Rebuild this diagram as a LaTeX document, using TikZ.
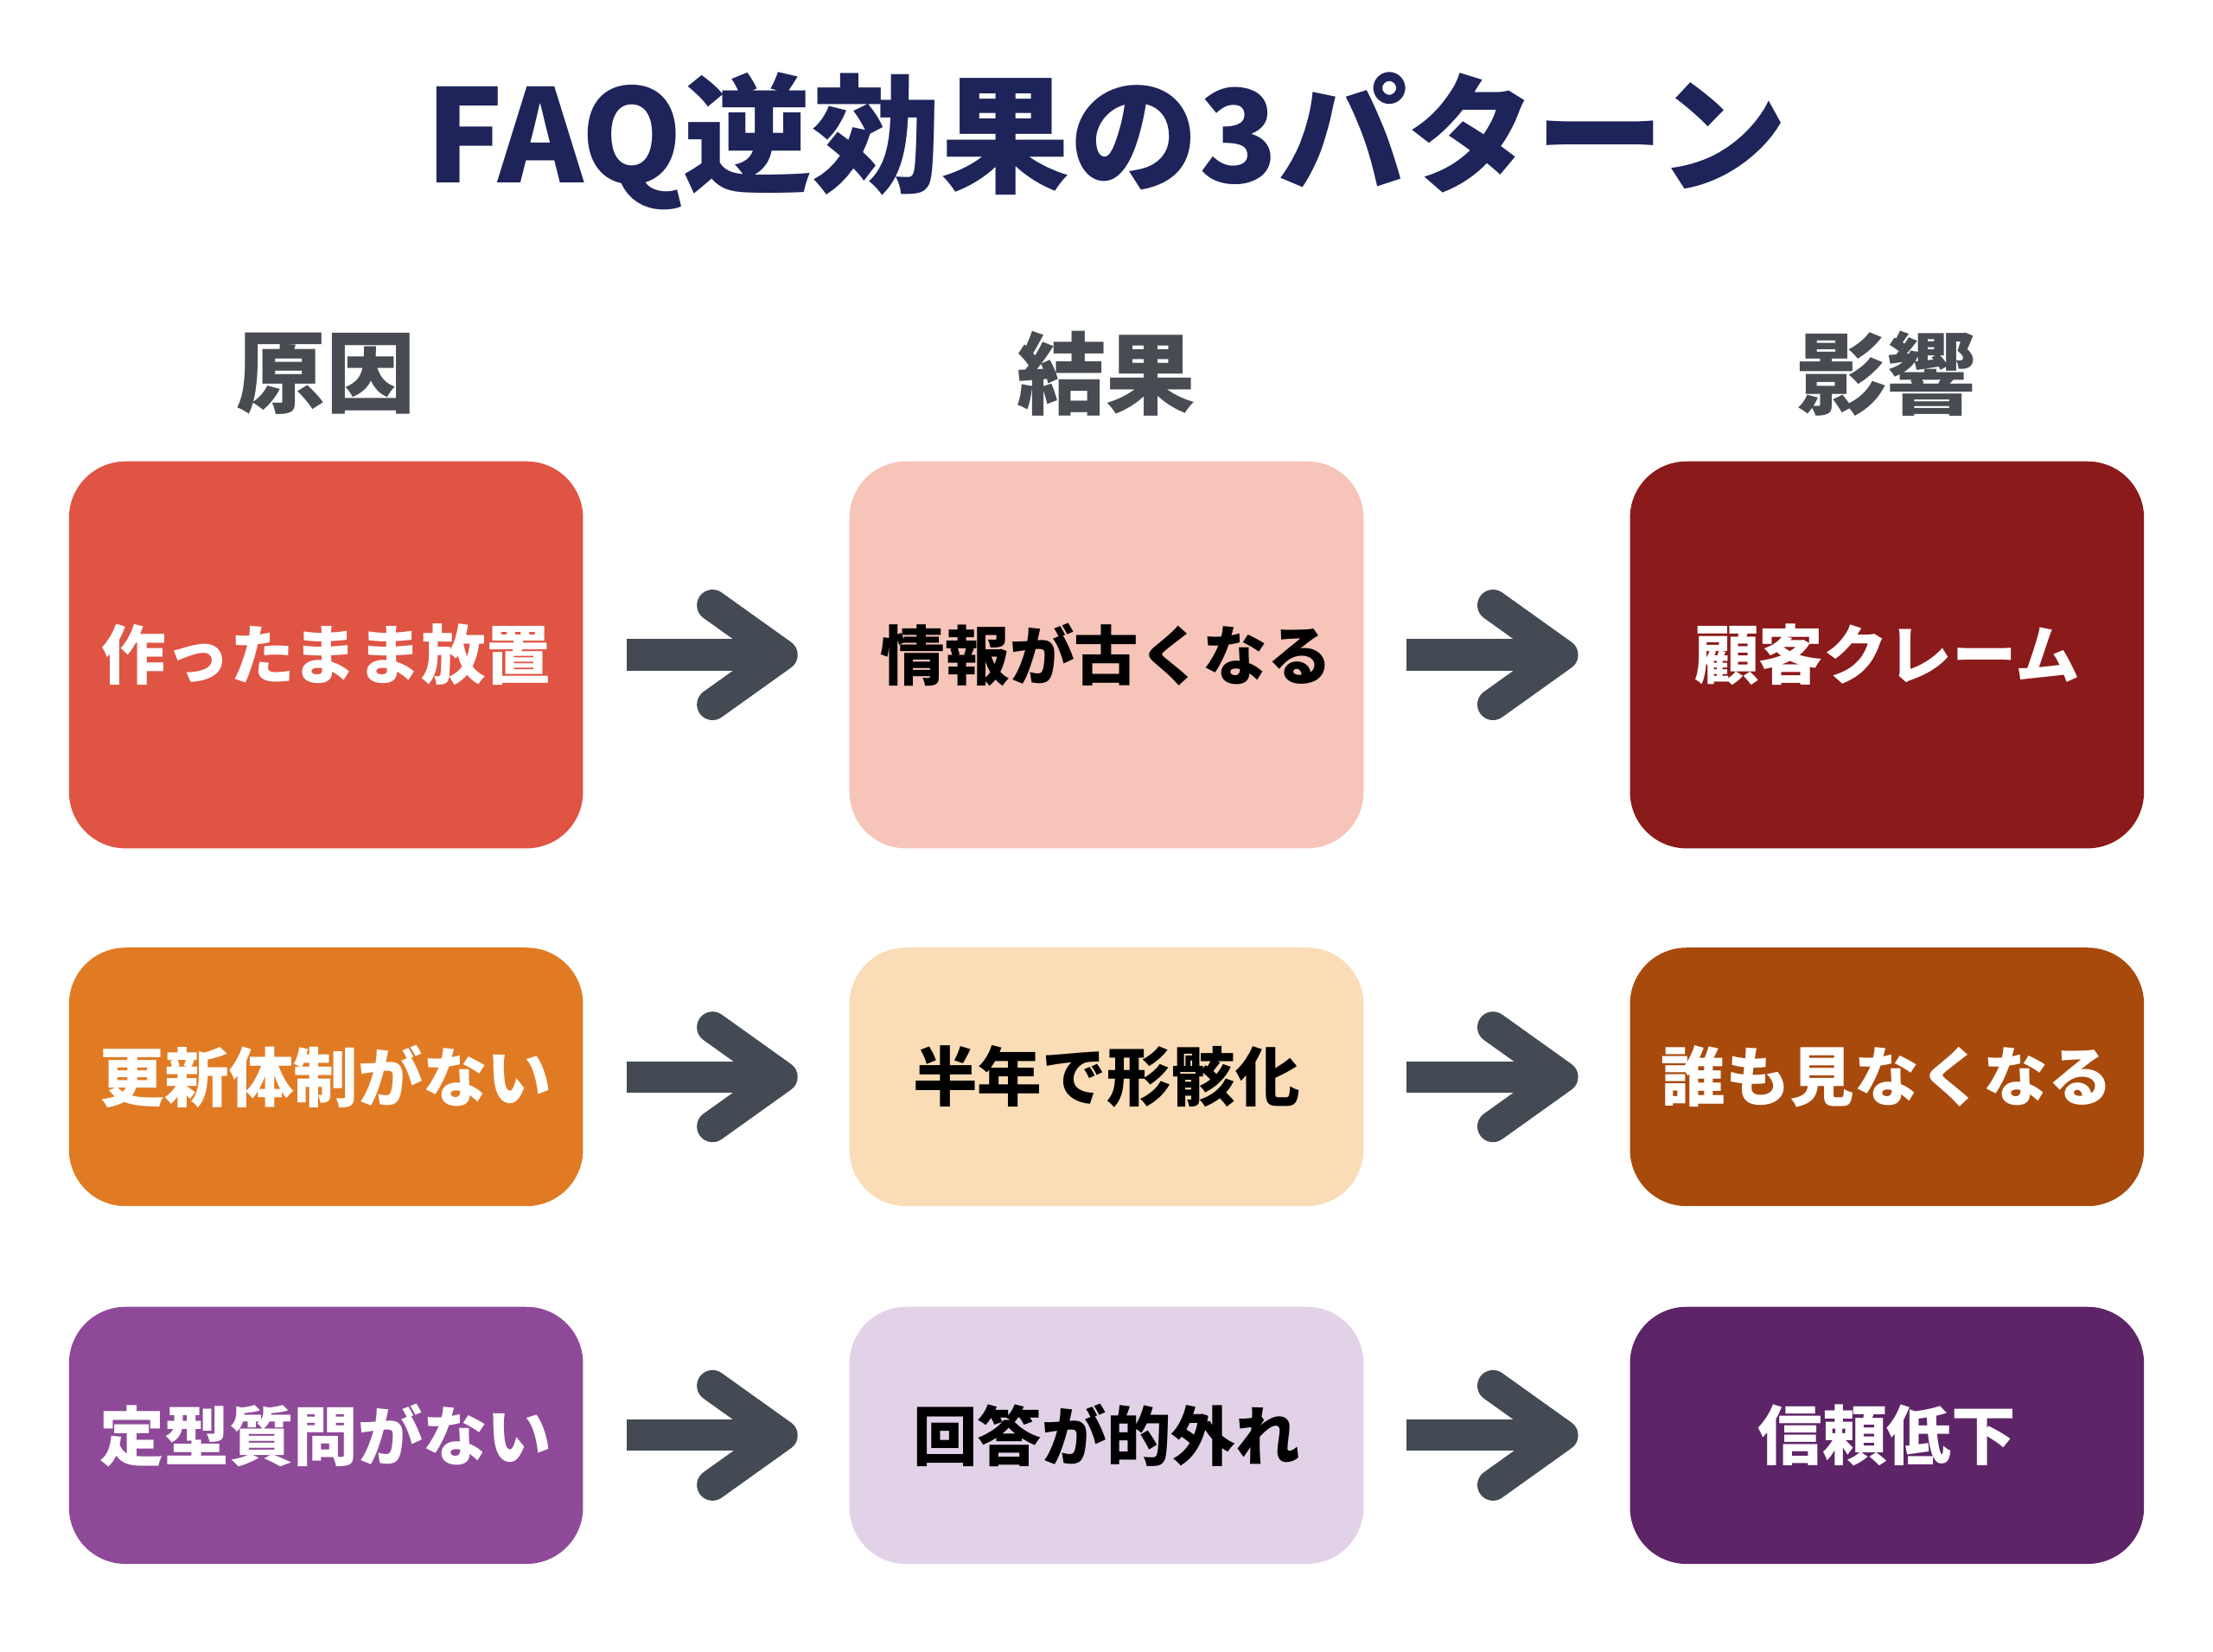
\documentclass[tikz,border=0pt]{standalone}
\usepackage{fontspec}
\setmainfont{Noto Sans CJK JP}
\usetikzlibrary{arrows.meta}
\definecolor{navy}{HTML}{1E2459}
\definecolor{headgray}{HTML}{484C52}
\definecolor{arrowgray}{HTML}{434A53}
\begin{document}
\begin{tikzpicture}[x=0.01cm, y=-0.01cm,
  box/.style={rounded corners=0.4cm, minimum width=3.64cm, font=\bfseries\fontsize{13}{15}\selectfont, inner sep=0pt},
  head/.style={font=\bfseries\fontsize{18}{20}\selectfont, text=headgray},
  flow/.style={draw=arrowgray, line width=6.3pt, shorten <=30\pgflinewidth*0+0.3cm, shorten >=0.36cm,
    -{Straight Barb[length=14pt,width=20pt,line cap=round,line join=round]}}]
  \useasboundingbox (0,0) rectangle (1568,1170);
  \fill[white] (0,0) rectangle (1568,1170);

  % title and column heads
  \node[font=\bfseries\fontsize{26}{30}\selectfont, text=navy] (title) at (784,100) {FAQ逆効果の3パターン};
  \node[head] (hcause) at (231,265) {原因};
  \node[head] (hresult) at (784,265) {結果};
  \node[head] (himpact) at (1337,265) {影響};

  % row 1
  \node[box, fill={rgb,255:red,224;green,84;blue,68}, text=white, minimum height=2.74cm] (c1) at (231,464) {作ったまま放置};
  \node[box, fill={rgb,255:red,246;green,196;blue,184}, text=black, minimum height=2.74cm] (r1) at (784,464) {情報が古くなる};
  \node[box, fill={rgb,255:red,139;green,26;blue,26}, text=white, minimum height=2.74cm] (i1) at (1337,464) {顧客クレーム};

  % row 2
  \node[box, fill={rgb,255:red,224;green,123;blue,36}, text=white, minimum height=1.83cm] (c2) at (231,763) {更新体制がない};
  \node[box, fill={rgb,255:red,250;green,220;blue,182}, text=black, minimum height=1.83cm] (r2) at (784,763) {半年で形骸化};
  \node[box, fill={rgb,255:red,168;green,74;blue,12}, text=white, minimum height=1.83cm] (i2) at (1337,763) {誰も見なくなる};

  % row 3
  \node[box, fill={rgb,255:red,142;green,74;blue,152}, text=white, minimum height=1.82cm] (c3) at (231,1017) {定型質問がない};
  \node[box, fill={rgb,255:red,226;green,210;blue,232}, text=black, minimum height=1.82cm] (r3) at (784,1017) {回答が的外れ};
  \node[box, fill={rgb,255:red,94;green,36;blue,104}, text=white, minimum height=1.82cm] (i3) at (1337,1017) {信頼低下};

  % arrows
  \foreach \a/\b in {c1/r1, r1/i1, c2/r2, r2/i2, c3/r3, r3/i3}
    \draw[flow] (\a) -- (\b);
\end{tikzpicture}
\end{document}
